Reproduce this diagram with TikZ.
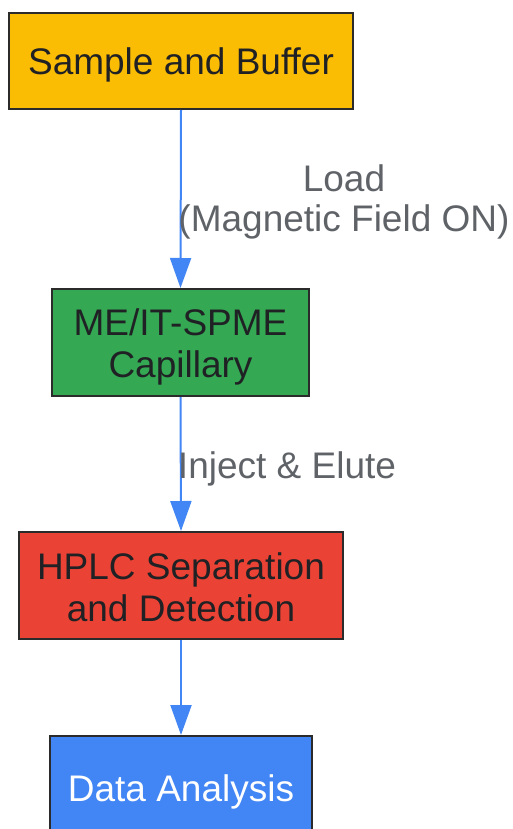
\documentclass[tikz,border=0pt]{standalone}
\usepackage{fontspec}
\setmainfont{Liberation Sans}
\usetikzlibrary{arrows.meta}
\definecolor{cyel}{HTML}{FBBC04}
\definecolor{cgrn}{HTML}{34A853}
\definecolor{cred}{HTML}{EA4335}
\definecolor{cblu}{HTML}{4285F4}
\definecolor{ctxt}{HTML}{202124}
\definecolor{clbl}{HTML}{5F6368}
\definecolor{cbrd}{HTML}{2B2B2B}
\tikzset{
  box/.style={draw=cbrd, line width=2pt, rectangle, inner sep=0pt},
  txt/.style={align=center, inner sep=0pt, text=ctxt, font=\fontsize{37pt}{42pt}\selectfont},
  lbl/.style={text=clbl, align=center, inner sep=0pt, font=\fontsize{37pt}{40pt}\selectfont},
  flow/.style={draw=cblu, line width=2pt, -{Triangle[length=30pt,width=21pt]}}
}
\begin{document}
\begin{tikzpicture}[x=1pt,y=-1pt]
\clip (0,0) rectangle (513,829);
\useasboundingbox (0,0) rectangle (513,829);
\node[box, fill=cyel, minimum width=344pt, minimum height=96pt] (n1) at (181,61) {};
\node[box, fill=cgrn, minimum width=257pt, minimum height=107pt] (n2) at (180.5,342.5) {};
\node[box, fill=cred, minimum width=324pt, minimum height=107pt] (n3) at (181,585.5) {};
\node[box, fill=cblu, minimum width=262pt, minimum height=105pt] (n4) at (181,788.5) {};
\node[txt] (t1) at ([yshift=-4pt]n1.center) {Sample and Buffer};
\node[txt] (t2) at ([yshift=-4.5pt]n2.center) {ME/IT-SPME\\Capillary};
\node[txt] (t3) at ([yshift=-2pt]n3.center) {HPLC Separation\\and Detection};
\node[txt, text=white] (t4) at ([yshift=-3pt]n4.center) {Data Analysis};
\draw[flow] (n1.south) -- (n2.north);
\draw[flow] (n2.south) -- (n3.north);
\draw[flow] (n3.south) -- (n4.north);
\node[lbl] (l1) at (344,202) {Load\\(Magnetic Field ON)};
\node[lbl] (l2) at (287,469) {Inject \& Elute};
\end{tikzpicture}
\end{document}
